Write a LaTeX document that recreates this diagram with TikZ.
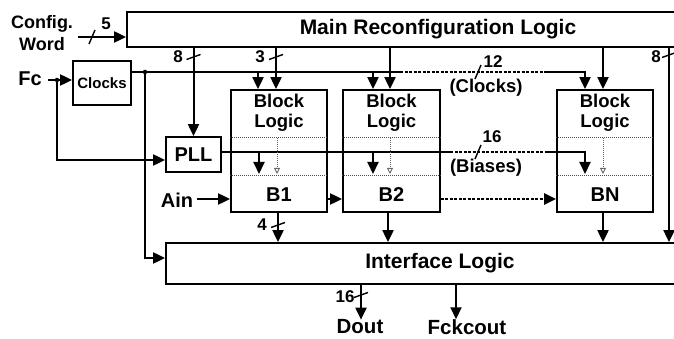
\documentclass[tikz,border=0pt]{standalone}
\usepackage{fontspec}
\setmainfont{Liberation Sans}
\usetikzlibrary{arrows.meta}
\newcommand{\fs}[1]{\fontsize{#1}{#1}\selectfont\bfseries}
\begin{document}
\begin{tikzpicture}[x=1pt,y=-1pt,
  box/.style={draw, line width=1.8pt, inner sep=0pt},
  wire/.style={line width=2pt},
  conn/.style={line width=2pt, -{Triangle[length=12pt,width=11pt]}},
  dotw/.style={line width=2.4pt, dash pattern=on 3pt off 1.5pt},
  divider/.style={line width=0.9pt, dash pattern=on 1pt off 1pt, black!70},
  gdot/.style={line width=0.9pt, dash pattern=on 1pt off 1pt, black!60, -{Triangle[length=6pt,width=6pt,open]}},
  slash/.style={line width=1.4pt},
  lbl/.style={inner sep=0pt, font=\fs{17}},
  dot/.style={circle, fill, inner sep=0pt, minimum size=4.5pt}]
\useasboundingbox (0,0) rectangle (674,339);
\clip (0,0) rectangle (674,339);

% boxes
\node[box, minimum width=622pt, minimum height=35pt, font=\fs{21}] (main) at (438,29.5) {Main Reconfiguration Logic};
\node[box, minimum width=548pt, minimum height=41pt, font=\fs{21}] (iface) at (440,263.5) {Interface Logic};
\node[box, minimum width=58pt, minimum height=44pt, font=\fs{15}] (clocks) at (102,83) {Clocks};
\node[box, minimum width=55pt, minimum height=35pt, font=\fs{20}] (pll) at (193.5,154.5) {PLL};
\node[box, minimum width=96pt, minimum height=122pt] (b1) at (279,151) {};
\node[box, minimum width=97pt, minimum height=122pt] (b2) at (391.5,151) {};
\node[box, minimum width=96pt, minimum height=122pt] (bn) at (605,151) {};

% block texts
\foreach \b in {b1,b2,bn}{
  \node[align=center, font=\fs{18.5}, inner sep=0pt] (\b t) at ([yshift=38pt]\b.center) {Block\\[1.5pt]Logic};
  \draw[divider] ([yshift=-48pt]\b.north west) -- ([yshift=-48pt]\b.north east);
  \draw[divider] ([yshift=37pt]\b.south west) -- ([yshift=37pt]\b.south east);
}
\node[font=\fs{20}, inner sep=0pt] (b1n) at (279,195) {B1};
\node[font=\fs{20}, inner sep=0pt] (b2n) at (391.5,195) {B2};
\node[font=\fs{20}, inner sep=0pt] (bnn) at (605,195) {BN};

% text labels
\node[align=center, font=\fs{18}, inner sep=0pt] (cfg) at (42,33) {Config.\\[4pt]Word};
\node[font=\fs{20}, inner sep=0pt] (fc) at (30,79) {Fc};
\node[font=\fs{20}, inner sep=0pt] (ain) at (177,200) {Ain};
\node[font=\fs{20.5}, inner sep=0pt] (dout) at (360,327) {Dout};
\node[font=\fs{20.5}, inner sep=0pt] (fck) at (467,327) {Fckcout};

% config word
\coordinate (cfgout) at (78,37);
\draw[conn] (cfgout) -- (main.west |- cfgout);
\draw[slash] (92,37) +(-3,7) -- +(3,-7);
\node[lbl] (l5) at (106,24) {5};

% Fc and clocks
\coordinate (fcout) at (48,80);
\coordinate (fcj) at (57,80);
\draw[conn] (fcout) -- (clocks.west |- fcout);
\node[dot] at (fcj) {};
\draw[conn] (fcj) -- (fcj |- 0,160) -- (pll.west |- 0,160);

\coordinate (ck0) at (clocks.east |- 0,72);
\coordinate (ckj) at (145,72);
\coordinate (ckd1) at (400,72);
\coordinate (ckd2) at (547,72);
\coordinate (ckn) at (585,72);
\draw[wire] (ck0) -- (ckd1);
\draw[dotw] (ckd1) -- (ckd2);
\draw[conn] (ckd2) -- (ckn) -- (ckn |- bn.north);
\node[dot] at (ckj) {};
\draw[conn] (ckj) -- (ckj |- 0,258) -- (iface.west |- 0,258);
\coordinate (t1) at (258,72);
\coordinate (t2) at (373,72);
\draw[conn] (t1) -- (t1 |- b1.north);
\draw[conn] (t2) -- (t2 |- b2.north);
\draw[slash] (478,72) +(-3,7) -- +(3,-7);
\node[lbl] (l12) at (493,62) {12};
\node[font=\fs{18.5}, inner sep=0pt] (lclk) at (486,88) {(Clocks)};

% main outputs
\draw[conn] (pll.north |- main.south) -- (pll.north);
\draw[slash] (193.5,57) +(-7,2.5) -- +(7,-2.5);
\node[lbl] (l8a) at (178,57) {8};
\coordinate (m3) at (276,47);
\draw[conn] (m3 |- main.south) -- (m3 |- b1.north);
\draw[slash] (276,57) +(-7,2.5) -- +(7,-2.5);
\node[lbl] (l3) at (260,57) {3};
\coordinate (m2) at (390,47);
\draw[conn] (m2 |- main.south) -- (m2 |- b2.north);
\coordinate (mn) at (603,47);
\draw[conn] (mn |- main.south) -- (mn |- bn.north);
\coordinate (mr) at (669,47);
\draw[conn] (mr |- main.south) -- (mr |- iface.north);
\draw[slash] (669,55) +(-7,2.5) -- +(7,-2.5);
\node[lbl] (l8b) at (656,57) {8};

% biases
\coordinate (bd1) at (450,152);
\coordinate (bd2) at (548,152);
\coordinate (bnn0) at (585,152);
\draw[wire] (pll.east |- bd1) -- (bd1);
\draw[dotw] (bd1) -- (bd2);
\draw[conn] (bd2) -- (bnn0) -- (bnn0 |- 0,174);
\coordinate (bt1) at (259,152);
\coordinate (bt2) at (373,152);
\draw[conn] (bt1) -- (bt1 |- 0,174);
\draw[conn] (bt2) -- (bt2 |- 0,174);
\draw[slash] (478,152) +(-3,7) -- +(3,-7);
\node[lbl] (l16) at (492,137) {16};
\node[font=\fs{18.5}, inner sep=0pt] (lbias) at (486,168) {(Biases)};

% gray inner arrows
\draw[gdot] (277,138) -- (277,174);
\draw[gdot] (390,138) -- (390,174);
\draw[gdot] (603,138) -- (603,174);

% data path
\coordinate (ainout) at (197,199);
\draw[conn] (ainout) -- (b1.west |- ainout);
\draw[conn] (b1.east |- 0,199) -- (b2.west |- 0,199);
\draw[dotw, -{Triangle[length=12pt,width=11pt]}] (b2.east |- 0,199) -- (bn.west |- 0,199);

% to interface
\coordinate (o1) at (278,212);
\draw[conn] (o1 |- b1.south) -- (o1 |- iface.north);
\draw[slash] (278,225) +(-7,2.5) -- +(7,-2.5);
\node[lbl] (l4) at (262,225) {4};
\coordinate (o2) at (388,212);
\draw[conn] (o2 |- b2.south) -- (o2 |- iface.north);
\coordinate (on) at (603,212);
\draw[conn] (on |- bn.south) -- (on |- iface.north);

% outputs
\coordinate (dx) at (361,300);
\draw[conn] (dx |- iface.south) -- (dx |- dout.north);
\draw[slash] (361,295) +(-7,2.5) -- +(7,-2.5);
\node[lbl] (l16b) at (345,297) {16};
\coordinate (fx) at (456,300);
\draw[conn] (fx |- iface.south) -- (fx |- fck.north);
\end{tikzpicture}
\end{document}
